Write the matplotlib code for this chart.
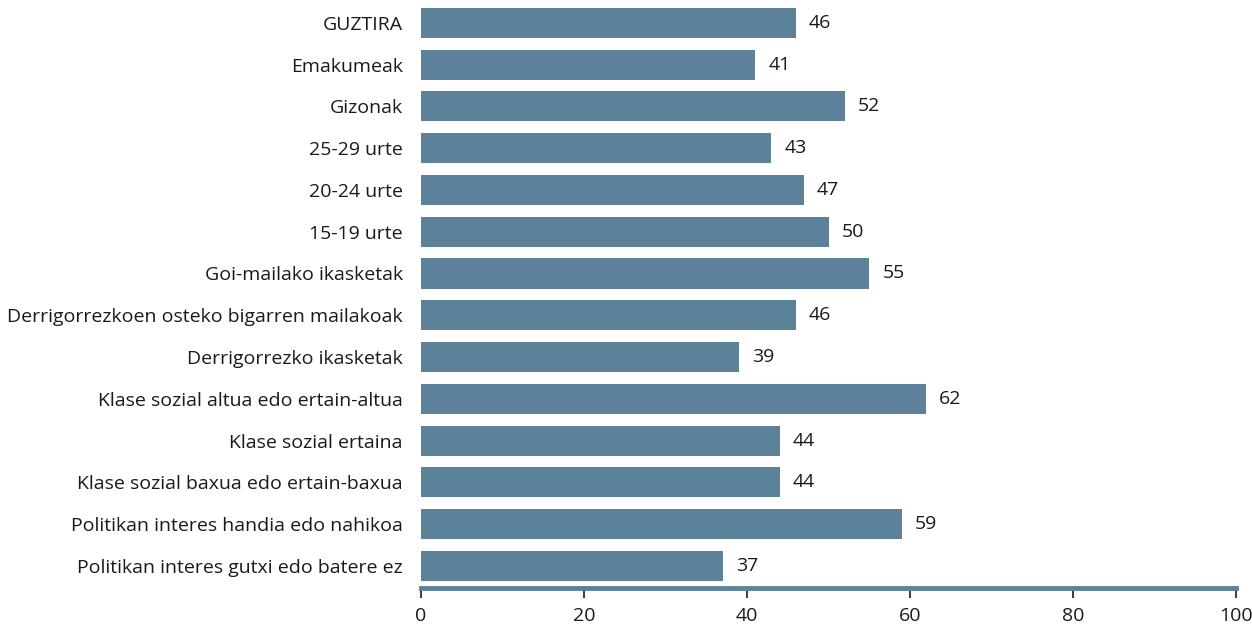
import numpy as np
import matplotlib
matplotlib.use('Agg')
import matplotlib.pyplot as plt

categories = ['GUZTIRA', 'Emakumeak', 'Gizonak', '25-29 urte', '20-24 urte',
              '15-19 urte', 'Goi-mailako ikasketak',
              'Derrigorrezkoen osteko bigarren mailakoak',
              'Derrigorrezko ikasketak', 'Klase sozial altua edo ertain-altua',
              'Klase sozial ertaina', 'Klase sozial baxua edo ertain-baxua',
              'Politikan interes handia edo nahikoa',
              'Politikan interes gutxi edo batere ez']
values = [46, 41, 52, 43, 47, 50, 55, 46, 39, 62, 44, 44, 59, 37]
xticks = [0, 20, 40, 60, 80, 100]

bar_color = '#5b8299'
text_color = '#1a1a1a'
plt.rcParams['font.family'] = ['Open Sans', 'DejaVu Sans']
fs = 14

fig = plt.figure(figsize=(12.52, 6.25), dpi=100)
ax = fig.add_axes([0.3363, 0.0592, 0.9872 - 0.3363, 0.9968 - 0.0592])

y = np.arange(len(categories))
ax.barh(y, values, height=0.72, color=bar_color)
for yi, v in zip(y, values):
    ax.text(v + 1.6, yi, str(v), va='center', ha='left', fontsize=fs, color=text_color)

ax.set_ylim(len(categories) - 0.47, -0.5)
ax.set_xlim(0, 100)
ax.set_yticks(y)
ax.set_yticklabels(categories, fontsize=fs, color=text_color)
ax.tick_params(axis='y', length=0, pad=13)
ax.set_xticks(xticks)
ax.set_xticklabels([str(t) for t in xticks], fontsize=fs, color=text_color)
ax.tick_params(axis='x', length=7, width=1.2, color=text_color, pad=7, direction='out')

for s in ['top', 'right', 'left']:
    ax.spines[s].set_visible(False)
ax.spines['bottom'].set_color(bar_color)
ax.spines['bottom'].set_linewidth(3.5)

fig.savefig('out.png', dpi=100)
